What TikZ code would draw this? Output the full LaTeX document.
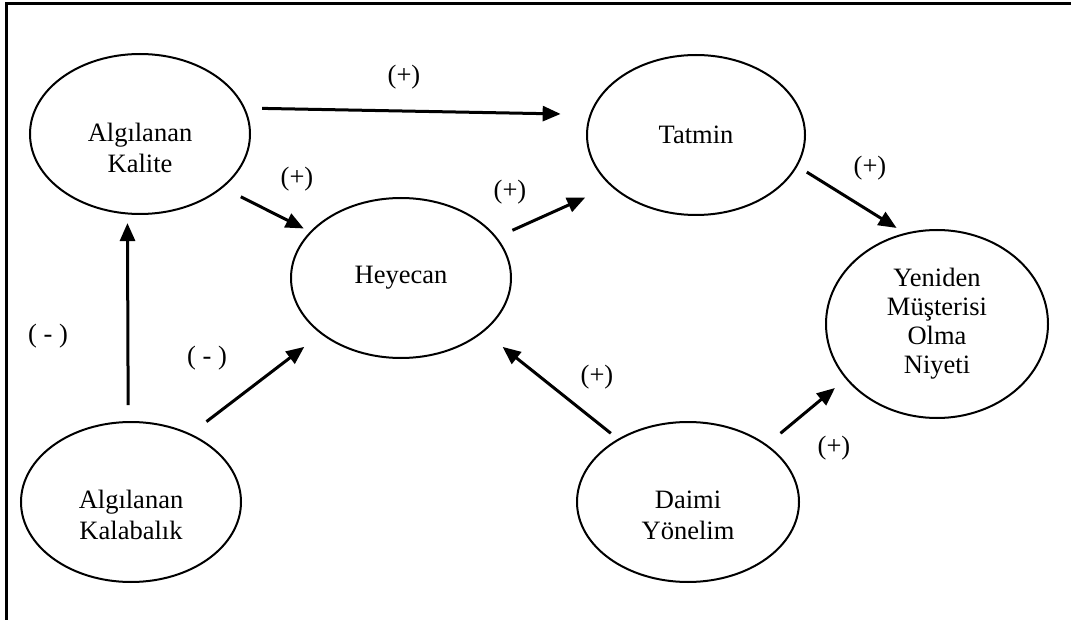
\documentclass[tikz,border=0pt]{standalone}
\usepackage{fontspec}
\setmainfont{Liberation Serif}
\usetikzlibrary{arrows.meta,shapes.geometric}
\begin{document}
\begin{tikzpicture}[x=1pt,y=-1pt,
  bubble/.style={ellipse,draw,line width=2pt,minimum width=220pt,minimum height=160pt,
    inner sep=0pt,outer sep=0pt,align=center,font=\fontsize{26.5}{31}\selectfont},
  nodetext/.style={font=\fontsize{26.5}{31}\selectfont,align=center,inner sep=0pt},
  sign/.style={font=\fontsize{26.5}{31}\selectfont,inner sep=0pt},
  link/.style={line width=3pt,-{Triangle[length=18pt,width=15pt]}},
  frameline/.style={line width=3.4pt}]
\useasboundingbox (0,0) rectangle (1071,620);

% frame edges
\coordinate (ftl) at (6.5,3.5);
\coordinate (ftr) at (1071,3.5);
\coordinate (fbl) at (6.5,620);
\draw[frameline] (ftr) -- (ftl) -- (fbl);

% constructs
\node[bubble,label={[nodetext,yshift=-14pt]center:{Algılanan\\Kalite}}] (ak) at (140,134) {};
\node[bubble,minimum width=218pt] (tat) at (696,135) {Tatmin};
\node[bubble] (hey) at (401,278) {Heyecan};
\node[bubble,minimum width=222pt,minimum height=188pt,font=\fontsize{26.5}{29}\selectfont] (yen) at (937,324)
  {Yeniden\\Müşterisi\\Olma\\Niyeti};
\node[bubble,label={[nodetext,yshift=-13pt]center:{Algılanan\\Kalabalık}}] (akal) at (131,502) {};
\node[bubble,minimum width=222pt,label={[nodetext,yshift=-13pt]center:{Daimi\\Yönelim}}] (dai) at (688,502) {};

% paths
\draw[link,shorten <=18pt,shorten >=30pt] (ak.14) -- (tat.169);
\draw[link,shorten <=21pt,shorten >=8pt] (ak.-33) -- (hey.153.5);
\draw[link,shorten <=18pt,shorten >=29pt] (hey.23.4) -- (tat.211.7);
\draw[link,shorten <=12pt,shorten >=11pt] (tat.-17) -- (yen.109.4);
\draw[link,shorten <=17pt,shorten >=9.6pt] (akal.92.9) -- (ak.-99.4);
\draw[link,shorten <=21pt,shorten >=22pt] (akal.49.6) -- (hey.215.1);
\draw[link,shorten <=10pt,shorten >=25pt] (dai.138.5) -- (hey.-33.3);
\draw[link,shorten <=18.6pt,shorten >=15pt] (dai.36.4) -- (yen.211.1);

% signs of the effects
\node[sign] (s1) at (404,77) {(+)};
\node[sign] (s2) at (297,179) {(+)};
\node[sign] (s3) at (510,192) {(+)};
\node[sign] (s4) at (870,168) {(+)};
\node[sign] (s5) at (48,336) {( - )};
\node[sign] (s6) at (207,358) {( - )};
\node[sign] (s7) at (597,377) {(+)};
\node[sign] (s8) at (834,448) {(+)};
\end{tikzpicture}
\end{document}
